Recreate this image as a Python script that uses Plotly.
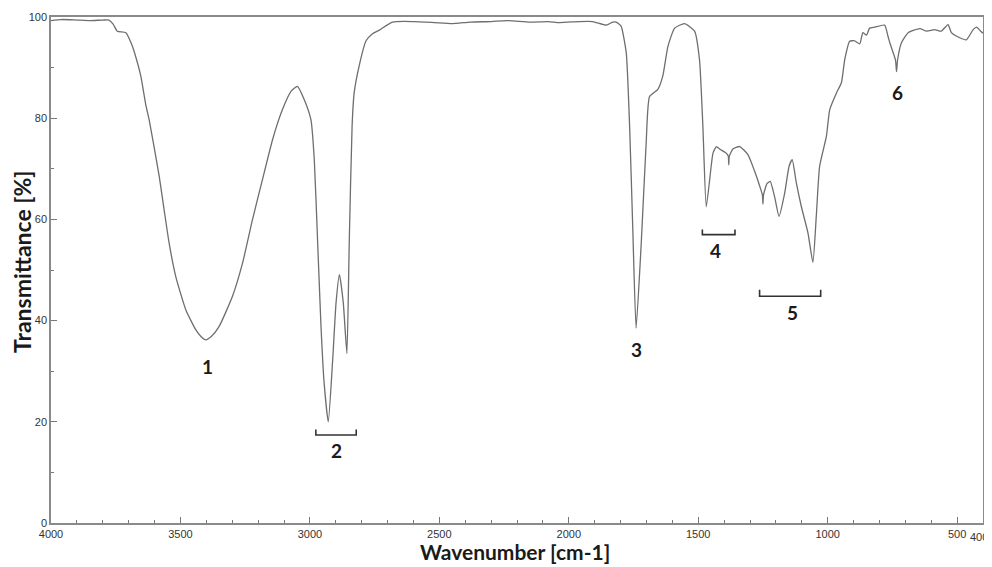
import plotly.graph_objects as go

# Spectrum values
wavenumber = [4000, 3960, 3900, 3850, 3800, 3776, 3760, 3744, 3711, 3690, 3673, 3653, 3634, 3621, 3602, 3582, 3563,
              3544, 3518, 3479, 3441, 3420, 3402, 3380, 3351, 3299, 3260, 3222, 3183, 3144, 3106, 3073, 3048,
              3022, 2996, 2983, 2970, 2957, 2945, 2929, 2912, 2899, 2886, 2871, 2857, 2848, 2837,
              2829, 2809, 2783, 2758, 2732, 2681, 2600, 2520, 2450, 2380, 2300, 2241, 2150, 2080,
              2036, 1960, 1908, 1855, 1830, 1817, 1798, 1778, 1765, 1753, 1740, 1720, 1701, 1688,
              1656, 1637, 1617, 1591, 1553, 1514, 1495, 1482, 1469, 1450, 1443, 1430, 1417, 1392,
              1384, 1382, 1380, 1366, 1340, 1308, 1282, 1262, 1252, 1250, 1248, 1234, 1222, 1205,
              1188, 1166, 1149, 1137, 1121, 1102, 1076, 1057, 1044, 1031, 1005, 992, 966, 947,
              934, 915, 896, 876, 864, 850, 838, 818, 780, 767, 760, 738, 734, 730, 715, 689,
              644, 618, 587, 561, 535, 522, 490, 464, 438, 425, 409, 400]
transmittance = [99.3, 99.5, 99.4, 99.3, 99.4, 99.4, 98.6, 97.2, 96.9, 94.8, 92.2, 88.3, 82.7, 79.7, 74.4, 68.5, 61.9,
                 55.4, 48.7, 42.1, 38.2, 36.8, 36.2, 36.9, 38.8, 44.8, 51.4, 59.9, 67.9, 75.8, 81.7, 85.3, 86.3,
                 83.7, 79.7, 71.8, 55.4, 38.8, 27.7, 20.0, 32.2, 43.5, 49.1, 43.5, 33.5, 55.4, 78.4,
                 85.0, 90.5, 95.3, 96.7, 97.4, 99.0, 99.1, 98.9, 98.7, 99.0, 99.1, 99.3, 99.0, 99.1,
                 98.9, 99.1, 99.1, 98.4, 99.0, 99.0, 98.2, 92.9, 78.4, 58.6, 38.5, 55.4, 75.2, 84.3,
                 85.7, 88.3, 94.2, 97.8, 98.7, 97.2, 91.5, 78.4, 62.5, 70.5, 73.1, 74.4, 73.9, 73.1,
                 72.5, 70.8, 72.5, 73.9, 74.4, 72.8, 69.5, 66.5, 64.8, 63.0, 64.8, 67.1, 67.5, 64.5,
                 60.6, 65.2, 70.5, 71.8, 67.2, 62.6, 57.3, 51.5, 60.6, 70.5, 76.4, 81.7, 85.0, 87.0,
                 91.6, 95.2, 95.3, 94.7, 96.9, 96.4, 97.8, 98.0, 98.4, 96.2, 94.9, 91.5, 89.2, 91.5, 94.9, 96.9,
                 97.7, 97.2, 97.5, 97.2, 98.5, 96.9, 95.9, 95.5, 97.5, 98.0, 97.2, 96.8]

x_tick_vals = [4000, 3500, 3000, 2500, 2000, 1500, 1000, 500]
x_tick_text = ["4000", "3500", "3000", "2500", "2000", "1500", "1000", "500"]
x_end_label = "400"
y_tick_vals = [0, 20, 40, 60, 80, 100]

x_title = "Wavenumber [cm-1]"
y_title = "Transmittance [%]"

# Peak labels
peak_labels = ["1", "2", "3", "4", "5", "6"]
peak_label_x = [3397, 2898, 1739, 1433, 1134, 731]
peak_label_y = [30.9, 14.4, 34.2, 53.9, 41.6, 85.1]

# Brackets under peak groups: (start, end, level, tick top)
bracket_x0 = [2977, 1484, 1263]
bracket_x1 = [2821, 1358, 1027]
bracket_y = [17.4, 57.0, 44.8]
bracket_top = [18.5, 58.0, 46.1]

x_title_font = dict(family="Lato, Open Sans, sans-serif", size=21, color="#1a1a1a")
y_title_font = dict(family="Lato, Open Sans, sans-serif", size=23, color="#1a1a1a")
label_font = dict(family="Lato, Open Sans, sans-serif", size=19, color="#1a1a1a")
tick_font = dict(family="Arial, Liberation Sans, sans-serif", size=11, color="#333333")

fig = go.Figure()
fig.add_trace(go.Scatter(x=wavenumber, y=transmittance, mode="lines",
                         line=dict(color="#6e6e6e", width=1.3, shape="spline", smoothing=0.5),
                         showlegend=False, hoverinfo="x+y"))

for x0, x1, yb, yt in zip(bracket_x0, bracket_x1, bracket_y, bracket_top):
    fig.add_trace(go.Scatter(x=[x0, x0, x1, x1], y=[yt, yb, yb, yt], mode="lines",
                             line=dict(color="#333333", width=1.6), showlegend=False,
                             hoverinfo="skip"))

for t, xv, yv in zip(peak_labels, peak_label_x, peak_label_y):
    fig.add_annotation(x=xv, y=yv, text="<b>" + t + "</b>", showarrow=False, font=label_font)

# Axis titles and end tick label
fig.add_annotation(xref="paper", yref="paper", x=0.498, y=-0.083, text="<b>" + x_title + "</b>",
                   showarrow=False, font=x_title_font, xanchor="center", yanchor="bottom",
                   borderpad=0)
fig.add_annotation(xref="paper", yref="paper", x=-0.031, y=0.516, text="<b>" + y_title + "</b>",
                   showarrow=False, font=y_title_font, textangle=-90, xanchor="center", yanchor="middle")
fig.add_annotation(x=400, xref="x", yref="paper", y=-0.012, text=x_end_label, showarrow=False,
                   font=tick_font, xanchor="right", yanchor="top", xshift=7)

axis_common = dict(showline=True, linecolor="#8a8a8a", linewidth=1.5, mirror=True,
                   ticks="inside", tickcolor="#777777", ticklen=6, tickwidth=1.2,
                   showgrid=False, zeroline=False, automargin=False, tickfont=tick_font)

fig.update_xaxes(range=[4000, 400], tickvals=x_tick_vals, ticktext=x_tick_text,
                 minor=dict(dtick=100, tick0=0, ticks="inside", ticklen=3, tickcolor="#777777"),
                 **axis_common)
fig.update_yaxes(range=[0, 100], tickvals=y_tick_vals,
                 minor=dict(dtick=10, ticks="inside", ticklen=3, tickcolor="#777777"),
                 **axis_common)

# the page body adds an 8px offset, so the figure is slightly smaller than the window
fig.update_layout(width=984, height=559, margin=dict(l=43, r=9, t=9, b=44),
                  paper_bgcolor="white", plot_bgcolor="white")

fig.write_html("out.html")
